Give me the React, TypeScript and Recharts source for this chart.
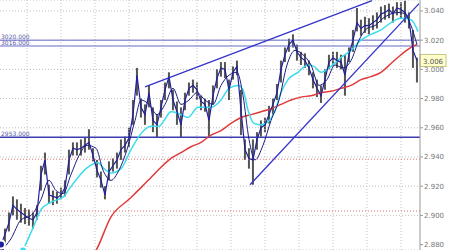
import React from 'react';
import {
  ComposedChart, Bar, Line, XAxis, YAxis, CartesianGrid, ReferenceLine
} from 'recharts';

// price bars (one every bar index)
const lows = [
  2.876, 2.880, 2.889, 2.900, 2.897, 2.895, 2.894, 2.893, 2.891, 2.897,
  2.917, 2.928, 2.908, 2.907, 2.908, 2.911, 2.913, 2.928, 2.941, 2.941,
  2.941, 2.943, 2.945, 2.937, 2.926, 2.919, 2.911, 2.924, 2.930, 2.932,
  2.938, 2.943, 2.947, 2.962, 2.982, 2.967, 2.962, 2.974, 2.957, 2.953,
  2.967, 2.979, 2.987, 2.972, 2.962, 2.953, 2.972, 2.982, 2.984, 2.979,
  2.972, 2.971, 2.954, 2.976, 2.987, 2.995, 2.994, 2.979, 2.993, 2.996,
  2.955, 2.938, 2.932, 2.921, 2.945, 2.954, 2.957, 2.963, 2.969, 2.979,
  2.991, 3.005, 3.012, 3.015, 3.006, 3.003, 3.001, 2.996, 2.987, 2.981,
  2.977, 2.986, 3.000, 3.002, 3.001, 3.000, 2.982, 3.005, 3.012, 3.026,
  3.023, 3.025, 3.024, 3.027, 3.028, 3.032, 3.034, 3.035, 3.032, 3.037,
  3.035, 3.032, 3.028, 3.001, 2.991,
];
const highs = [
  2.883, 2.891, 2.902, 2.913, 2.911, 2.908, 2.905, 2.904, 2.902, 2.907,
  2.934, 2.943, 2.921, 2.917, 2.916, 2.919, 2.924, 2.945, 2.950, 2.950,
  2.952, 2.953, 2.959, 2.946, 2.938, 2.930, 2.920, 2.937, 2.939, 2.943,
  2.952, 2.954, 2.960, 2.979, 3.001, 2.980, 2.976, 2.989, 2.974, 2.969,
  2.979, 2.991, 2.998, 2.986, 2.978, 2.974, 2.984, 2.991, 2.993, 2.991,
  2.982, 2.980, 2.979, 2.989, 3.000, 3.005, 3.005, 2.993, 3.002, 3.006,
  2.986, 2.952, 2.946, 2.952, 2.957, 2.965, 2.967, 2.975, 2.980, 2.990,
  3.006, 3.015, 3.021, 3.024, 3.017, 3.012, 3.011, 3.006, 2.998, 2.993,
  2.989, 3.000, 3.010, 3.012, 3.012, 3.010, 3.010, 3.015, 3.027, 3.042,
  3.034, 3.036, 3.035, 3.037, 3.039, 3.043, 3.044, 3.045, 3.043, 3.046,
  3.046, 3.047, 3.039, 3.027, 3.008,
];
const closes = [
  2.880, 2.887, 2.895, 2.907, 2.904, 2.902, 2.900, 2.898, 2.897, 2.902,
  2.928, 2.938, 2.914, 2.913, 2.912, 2.914, 2.919, 2.938, 2.946, 2.945,
  2.946, 2.948, 2.950, 2.941, 2.931, 2.924, 2.914, 2.930, 2.934, 2.938,
  2.945, 2.948, 2.953, 2.969, 2.996, 2.974, 2.969, 2.984, 2.965, 2.962,
  2.974, 2.986, 2.995, 2.979, 2.971, 2.962, 2.979, 2.987, 2.989, 2.986,
  2.978, 2.976, 2.965, 2.982, 2.994, 3.001, 3.000, 2.986, 2.998, 3.002,
  2.972, 2.945, 2.939, 2.938, 2.952, 2.960, 2.962, 2.969, 2.976, 2.984,
  3.000, 3.010, 3.017, 3.020, 3.012, 3.008, 3.006, 3.001, 2.993, 2.987,
  2.982, 2.993, 3.005, 3.008, 3.006, 3.005, 2.996, 3.010, 3.020, 3.032,
  3.028, 3.030, 3.030, 3.032, 3.034, 3.038, 3.039, 3.041, 3.038, 3.042,
  3.041, 3.039, 3.034, 3.013, 3.006,
];

// moving averages as [bar index, value]
const slowNavy = [
  [0, 2.876], [2.5, 2.884], [5, 2.897], [7.5, 2.900], [10, 2.911], [12, 2.924],
  [13.75, 2.917], [15.5, 2.915], [17.5, 2.928], [19.5, 2.941], [21.5, 2.948],
  [23.75, 2.946], [25.5, 2.931], [27.5, 2.924], [29.5, 2.931], [31.5, 2.945],
  [33.5, 2.965], [35, 2.979], [37, 2.976], [39, 2.969], [41, 2.976], [43, 2.987],
  [45, 2.976], [47, 2.979], [49, 2.984], [51, 2.979], [53, 2.976], [55, 2.989],
  [57, 2.996], [59, 2.998], [60.5, 2.982], [62, 2.952], [63.5, 2.938],
  [65.5, 2.948], [67.5, 2.965], [69.5, 2.979], [71.5, 3.003], [73.5, 3.013],
  [75.5, 3.010], [77.5, 3.003], [79.5, 2.989], [81.5, 2.993], [83.5, 3.003],
  [85.5, 3.001], [87.5, 3.006], [89.5, 3.020], [91.5, 3.028], [93.5, 3.030],
  [95.5, 3.035], [97.5, 3.038], [99.5, 3.039], [101, 3.038], [102.5, 3.030],
  [104, 3.017],
];
const cyanMa = [
  [5.5, 2.876], [8.25, 2.893], [10, 2.904], [12.5, 2.909], [15.75, 2.913],
  [16.75, 2.917], [19.25, 2.926], [21.25, 2.932], [24.25, 2.936], [25.75, 2.932],
  [27.5, 2.929], [30, 2.932], [32.5, 2.945], [35, 2.956], [37.5, 2.961],
  [39.5, 2.961], [40.75, 2.965], [42.5, 2.971], [44.25, 2.970], [46.75, 2.967],
  [49.25, 2.974], [50.75, 2.974], [52.5, 2.974], [55, 2.979], [57, 2.987],
  [59.25, 2.989], [60.5, 2.986], [61.75, 2.972], [63.25, 2.963], [65, 2.962],
  [66.75, 2.964], [68.25, 2.970], [70, 2.984], [71.75, 2.993], [74.25, 2.998],
  [76.75, 3.003], [78.25, 3.002], [80, 2.998], [82.5, 3.002], [85, 3.008],
  [87.5, 3.013], [90, 3.020], [92.5, 3.024], [95, 3.027], [97.5, 3.032],
  [100, 3.035], [102.5, 3.034], [104.25, 3.026],
];
const redMa = [
  [22.5, 2.871], [23.75, 2.876], [27.5, 2.899], [32, 2.911], [35, 2.919],
  [37.5, 2.926], [40, 2.933], [42.5, 2.939], [45, 2.943], [47.5, 2.947],
  [50, 2.950], [52.5, 2.955], [55, 2.958], [57.5, 2.963], [60, 2.967],
  [62.5, 2.969], [65, 2.971], [67.5, 2.973], [70, 2.976], [72.5, 2.979],
  [75, 2.981], [77.5, 2.982], [80, 2.984], [82.5, 2.985], [85, 2.987],
  [87.5, 2.989], [90, 2.993], [92.5, 2.995], [95, 2.998], [97.5, 3.004],
  [100, 3.010], [102.5, 3.015], [104, 3.017],
];

// drawn objects
const upperTrend = [{ x: 36, y: 2.988 }, { x: 92.75, y: 3.047 }];
const lowerTrend = [{ x: 62.25, y: 2.921 }, { x: 104.5, y: 3.045 }];
const levels = [
  { y: 3.020, label: '3020.000', color: '#6a6ac8', width: 1 },
  { y: 3.016, label: '3016.000', color: '#6a6ac8', width: 1 },
  { y: 2.9535, label: '2953.000', color: '#3c3cb0', width: 1.5 },
];
const redLevels = [2.9385, 2.903];
const lastPrice = 3.006;

const yTicks = [2.88, 2.9, 2.92, 2.94, 2.96, 2.98, 3.0, 3.02, 3.04];
const xGrid = [6.5, 15, 23.5, 32, 40.5, 49, 57.5, 66, 74.5, 83, 91.5, 100];

const bars = closes.map((c, i) => ({ i, c, range: [lows[i], highs[i]] }));
const toPts = (arr: number[][]) => arr.map(([i, v]) => ({ i, v }));

// thin high-low stick
const Stick = (p: any) => (
  <rect x={p.x + p.width / 2 - 1} y={p.y} width={2} height={Math.max(p.height, 1)} fill="#2a2a2a" fillOpacity={0.8} />
);

const PriceTag = (props: any) => {
  const { viewBox } = props;
  const x = viewBox.x + viewBox.width;
  const y = viewBox.y;
  return (
    <g>
      <rect x={x} y={y - 6} width={26} height={12} fill="#ffffcc" stroke="#b8b86a" strokeWidth={0.8} />
      <text x={x + 3} y={y + 3} fontSize={7} fill="#555" fontFamily="DejaVu Sans">{lastPrice.toFixed(3)}</text>
    </g>
  );
};

export default function App() {
  return (
    <div style={{ width: 450, height: 250, background: '#fff' }}>
      <style>{'body{margin:0}'}</style>
      <ComposedChart
        width={450}
        height={250}
        data={bars}
        margin={{ top: 0, right: 0, bottom: 0, left: 0 }}
      >
        <CartesianGrid stroke="#bdbdbd" strokeDasharray="1 2" vertical={false} />
        <XAxis
          type="number"
          dataKey="i"
          domain={[-0.25, 104.75]}
          allowDataOverflow
          hide
        />
        <YAxis
          orientation="right"
          domain={[2.8763, 3.0475]}
          ticks={yTicks}
          allowDataOverflow
          width={30}
          tickFormatter={(v: number) => v.toFixed(3)}
          tick={{ fontSize: 7, fill: '#777', fontFamily: 'DejaVu Sans' }}
          tickSize={3}
          tickMargin={1}
          stroke="#999"
        />
        {xGrid.map((x) => (
          <ReferenceLine key={x} x={x} stroke="#c4c4c4" strokeDasharray="1 2" />
        ))}
        {redLevels.map((y) => (
          <ReferenceLine key={y} y={y} stroke="#e07070" strokeDasharray="1 2" />
        ))}
        {levels.map((l) => (
          <ReferenceLine
            key={l.label}
            y={l.y}
            stroke={l.color}
            strokeWidth={l.width}
            label={{ value: l.label, position: 'insideBottomLeft', offset: 1, fontSize: 6, fill: '#5a5aa8', fontFamily: 'DejaVu Sans' }}
          />
        ))}
        <Line data={toPts(redMa)} dataKey="v" type="monotone" stroke="#e03a3a" strokeWidth={1.5} dot={false} isAnimationActive={false} />
        <Bar dataKey="range" barSize={2} shape={Stick} isAnimationActive={false} />
        <Line data={toPts(cyanMa)} dataKey="v" type="monotone" stroke="#3cdcec" strokeWidth={1.5} dot={false} isAnimationActive={false} />
        <Line data={toPts(slowNavy)} dataKey="v" type="monotone" stroke="#1e1e80" strokeWidth={1} dot={false} isAnimationActive={false} />
        <Line dataKey="c" type="linear" stroke="#20209a" strokeWidth={1.2} dot={false} isAnimationActive={false} />
        <ReferenceLine segment={upperTrend} stroke="#3434c8" strokeWidth={1.3} ifOverflow="visible" />
        <ReferenceLine segment={lowerTrend} stroke="#3434c8" strokeWidth={1.3} ifOverflow="visible" />
        <ReferenceLine y={lastPrice} stroke="none" label={<PriceTag />} />
      </ComposedChart>
    </div>
  );
}
